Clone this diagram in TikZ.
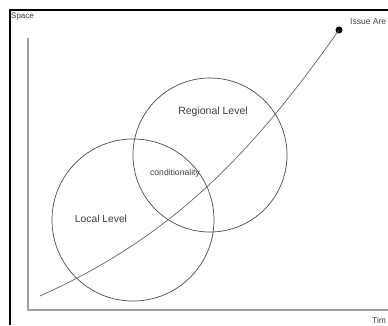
\documentclass[tikz,border=0pt]{standalone}
\usepackage{fontspec}
\setmainfont{Liberation Sans}
\begin{document}
\begin{tikzpicture}[x=1pt,y=-1pt,
  frameline/.style={black,line width=1.5pt},
  axisline/.style={gray!75,line width=1.4pt},
  setcircle/.style={draw=black!70,line width=0.7pt},
  trend/.style={draw=black!60,line width=0.7pt},
  lbl/.style={text=black!75,inner sep=0pt,font=\fontsize{#1}{#1}\selectfont},
  lbl/.default=10
]
\useasboundingbox[fill=white] (0,0) rectangle (388,325);

% outer frame
\draw[frameline] (10,325) -- (10,10) -- (388,10);

% axes
\coordinate (origin) at (28,310);
\coordinate (ytop) at (28,38);
\coordinate (xend) at (388,310);
\draw[axisline] (ytop) -- (origin) -- (xend);
\node[lbl=8, anchor=west] (space) at (11,16.5) {Space};
\node[lbl=8.5, anchor=south west] (time) at (372,324) {Tim};

% level circles
\node[setcircle, circle, minimum size=162pt, inner sep=0pt] (local) at (133,220) {};
\node[setcircle, circle, minimum size=154pt, inner sep=0pt] (regional) at (210,155) {};

\node[lbl=10.5] (regtext) at (213,112) {Regional Level};
\node[lbl=10.3] (loctext) at (101,219) {Local Level};
\node[lbl=8.6] (condtext) at (175,173) {conditionality};

% trend towards the issue area
\coordinate (start) at (40,296);
\node[circle, fill=black, inner sep=0pt, minimum size=7pt] (issue) at (339,30) {};
\draw[trend] (start) .. controls (170,237.5) and (249,157.8) .. (issue.center);
\node[lbl=8.5, anchor=west] (issuetext) at (350,22) {Issue Are};
\end{tikzpicture}
\end{document}
